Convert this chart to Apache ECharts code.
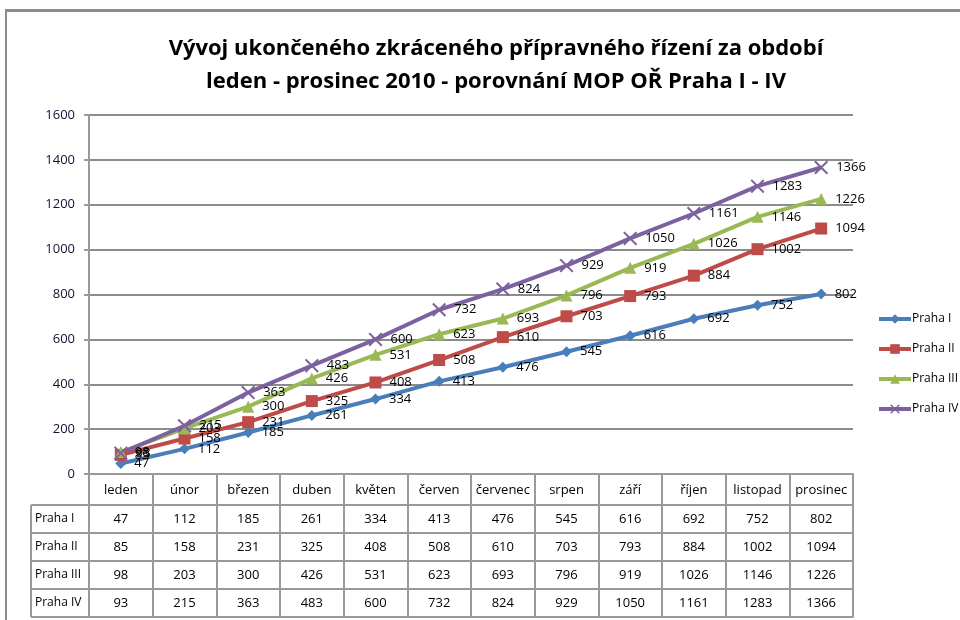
<!DOCTYPE html>
<html>
<head>
<meta charset="utf-8">
<script src="https://cdn.jsdelivr.net/npm/echarts@6/dist/echarts.min.js"></script>
<style>
  html, body { margin: 0; padding: 0; background: #fff; }
  #chart { width: 960px; height: 620px; }
</style>
</head>
<body>
<div id="chart"></div>
<script>
// kategorie a hodnoty (čteno z obrázku)
const months = ['leden', 'únor', 'březen', 'duben', 'květen', 'červen', 'červenec', 'srpen', 'září', 'říjen', 'listopad', 'prosinec']
const seriesNames = ['Praha I', 'Praha II', 'Praha III', 'Praha IV']
const prahaI = [47, 112, 185, 261, 334, 413, 476, 545, 616, 692, 752, 802]
const prahaII = [85, 158, 231, 325, 408, 508, 610, 703, 793, 884, 1002, 1094]
const prahaIII = [98, 203, 300, 426, 531, 623, 693, 796, 919, 1026, 1146, 1226]
const prahaIV = [93, 215, 363, 483, 600, 732, 824, 929, 1050, 1161, 1283, 1366]
const yTicks = [0, 200, 400, 600, 800, 1000, 1200, 1400, 1600]

const rows = [prahaI, prahaII, prahaIII, prahaIV]
const colors = ['#4a7ebb', '#be4b48', '#98b954', '#7d60a0']
const symbols = ['diamond', 'rect', 'triangle',
  'path://M0,1 L1,0 L5,4 L9,0 L10,1 L6,5 L10,9 L9,10 L5,6 L1,10 L0,9 L4,5 Z']
const symbolSizes = [11, 12, 12, 14]

const FONT = '"Open Sans", sans-serif'
const GRID = { left: 89, right: 107, top: 115, bottom: 146 }
const HEAD_H = 31
const ROW_H = 28
const LABEL_COL = 58
const lineCol = '#9a9a9a'

const chart = echarts.init(document.getElementById('chart'))

// osy tabulky pod grafem - jedna osa na řádek
const xAxes = [{
  type: 'category',
  data: months,
  position: 'bottom',
  axisLine: { lineStyle: { color: lineCol, width: 2 } },
  axisTick: { show: true, interval: 0, length: HEAD_H, lineStyle: { color: lineCol, width: 2 } },
  axisLabel: { interval: 0, margin: 10, color: '#000', fontSize: 13, fontFamily: FONT }
}]
rows.forEach((r, i) => {
  xAxes.push({
    type: 'category',
    data: r.map(String),
    position: 'bottom',
    offset: HEAD_H + i * ROW_H,
    axisLine: { lineStyle: { color: lineCol, width: 2 } },
    axisTick: { show: true, interval: 0, length: ROW_H, lineStyle: { color: lineCol, width: 2 } },
    axisLabel: { interval: 0, margin: 8, color: '#000', fontSize: 13, fontFamily: FONT }
  })
})
xAxes.push({
  type: 'category',
  data: months,
  position: 'bottom',
  offset: HEAD_H + rows.length * ROW_H,
  axisLine: { lineStyle: { color: lineCol, width: 2 } },
  axisTick: { show: false },
  axisLabel: { show: false }
})

// levý sloupec tabulky s názvy řad
const tableTop = 620 - GRID.bottom + HEAD_H
const tableBottom = tableTop + rows.length * ROW_H
const leftCol = []
leftCol.push({ type: 'line', shape: { x1: GRID.left - LABEL_COL, y1: tableTop, x2: GRID.left - LABEL_COL, y2: tableBottom }, style: { stroke: lineCol, lineWidth: 2 } })
for (let i = 0; i <= rows.length; i++) {
  const y = tableTop + i * ROW_H
  leftCol.push({ type: 'line', shape: { x1: GRID.left - LABEL_COL, y1: y, x2: GRID.left, y2: y }, style: { stroke: lineCol, lineWidth: 2 } })
}
seriesNames.forEach((n, i) => {
  leftCol.push({
    type: 'text',
    x: GRID.left - LABEL_COL + 4,
    y: tableTop + i * ROW_H + ROW_H / 2,
    style: { text: n, fill: '#000', fontSize: 12, fontFamily: FONT, verticalAlign: 'middle', align: 'left' }
  })
})

const option = {
  backgroundColor: '#fff',
  animation: false,
  title: {
    text: 'Vývoj ukončeného zkráceného přípravného řízení za období\nleden - prosinec 2010 - porovnání MOP OŘ Praha I - IV',
    left: 491,
    textAlign: 'center',
    top: 27,
    textStyle: { fontSize: 22, fontWeight: 'bold', color: '#000', lineHeight: 33, fontFamily: FONT }
  },
  legend: {
    orient: 'vertical',
    left: 872,
    top: 308,
    itemWidth: 32,
    itemHeight: 12,
    itemGap: 18,
    lineStyle: { width: 4 },
    textStyle: { fontSize: 12, color: '#000', fontFamily: FONT, padding: [0, 0, 0, -4] },
    data: seriesNames
  },
  grid: GRID,
  xAxis: xAxes,
  yAxis: {
    type: 'value',
    min: yTicks[0],
    max: yTicks[yTicks.length - 1],
    interval: 200,
    axisLine: { show: true, lineStyle: { color: lineCol, width: 2 } },
    axisTick: { show: true, length: 5, lineStyle: { color: lineCol, width: 2 } },
    axisLabel: { margin: 14, color: '#111133', fontSize: 13, fontFamily: FONT, formatter: v => String(v) },
    splitLine: { lineStyle: { color: '#8c8c8c', width: 2 } }
  },
  series: rows.map((r, i) => ({
    name: seriesNames[i],
    type: 'line',
    data: r,
    xAxisIndex: 0,
    symbol: symbols[i],
    symbolSize: symbolSizes[i],
    showAllSymbol: true,
    color: colors[i],
    lineStyle: { width: 4, color: colors[i] },
    itemStyle: { color: colors[i] },
    label: { show: true, position: 'right', distance: 8, color: '#000', fontSize: 13, fontFamily: FONT },
    emphasis: { disabled: true }
  })),
  graphic: [
    { type: 'rect', z: 100, shape: { x: 5, y: 9, width: 955, height: 3 }, style: { fill: '#8c8c8c' }, silent: true },
    { type: 'rect', z: 100, shape: { x: 5, y: 9, width: 2, height: 611 }, style: { fill: '#8c8c8c' }, silent: true },
    { type: 'group', children: leftCol, silent: true }
  ]
}

chart.setOption(option)
</script>
</body>
</html>
